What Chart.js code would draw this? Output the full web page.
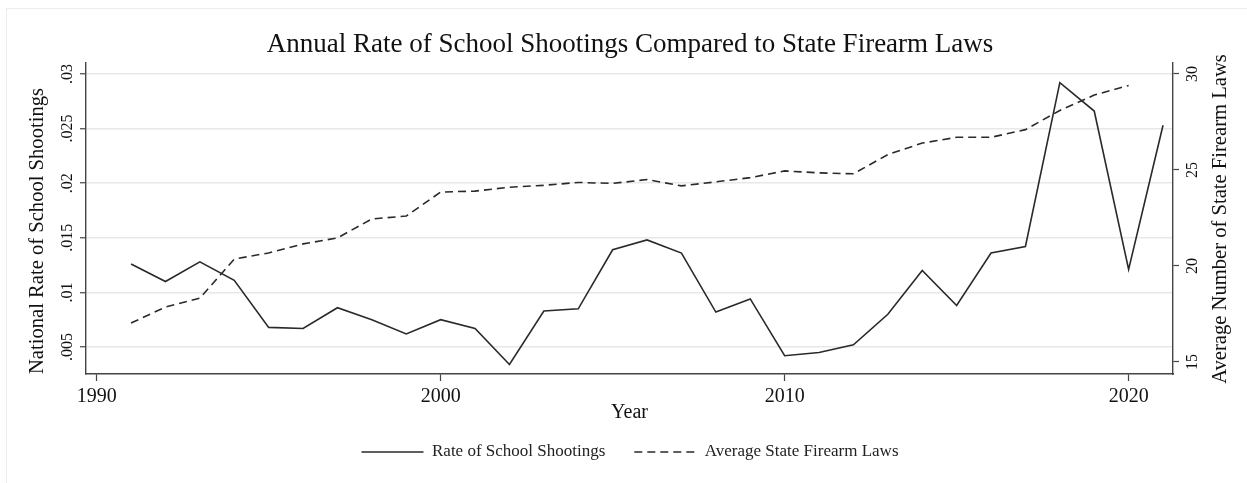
<!DOCTYPE html>
<html>
<head>
<meta charset="utf-8">
<script src="https://cdn.jsdelivr.net/npm/chart.js@4.4.1/dist/chart.umd.min.js"></script>
<style>
html,body{margin:0;padding:0;background:#fff;}
#contenedor{position:relative;width:1247px;height:483px;}
#marco{position:absolute;left:6px;top:8px;width:1270px;height:520px;border:1px solid #ececec;pointer-events:none;}
</style>
</head>
<body>
<div id="contenedor">
<canvas id="grafTiroteos"></canvas>
<div id="marco"></div>
</div>
<script>
/* =====================================
   DATOS
===================================== */

const anios = [
    1991,1992,1993,1994,1995,1996,1997,1998,1999,2000,
    2001,2002,2003,2004,2005,2006,2007,2008,2009,2010,
    2011,2012,2013,2014,2015,2016,2017,2018,2019,2020,
    2021
];

// tasa nacional de tiroteos escolares (eje izquierdo)
const tasaTiroteos = [
    .0126,.0110,.0128,.0111,.0068,.0067,.0086,.0075,.0062,.0075,
    .0067,.0034,.0083,.0085,.0139,.0148,.0136,.0082,.0094,.0042,
    .0045,.0052,.0080,.0120,.0088,.0136,.0142,.0292,.0266,.0121,
    .0253
];

// promedio de leyes estatales de armas (eje derecho), hasta 2020
const leyesPromedio = [
    17.03,17.86,18.33,20.36,20.68,21.15,21.46,22.45,22.60,23.85,
    23.90,24.10,24.20,24.35,24.30,24.50,24.17,24.38,24.60,24.95,
    24.85,24.80,25.80,26.40,26.70,26.70,27.10,28.10,28.90,29.40
];

const ticksAnio = [1990,2000,2010,2020];
const ticksTasa = [.005,.01,.015,.02,.025,.03];
const etiquetasTasa = [".005",".01",".015",".02",".025",".03"];
const ticksLeyes = [15,20,25,30];
const etiquetasLeyes = ["15","20","25","30"];

const titulo = "Annual Rate of School Shootings Compared to State Firearm Laws";
const tituloIzq = "National Rate of School Shootings";
const tituloDer = "Average Number of State Firearm Laws";

/* =====================================
   ESTILO
===================================== */

const serif = "'Liberation Serif','Times New Roman',serif";
const tinta = "#111";
const ejeColor = "#444";

/* =====================================
   TITULOS VERTICALES
===================================== */

const titulosEjes = {
    id:"titulosEjes",
    afterDraw(chart){
        const ctx = chart.ctx;
        ctx.save();
        ctx.font = "20.6px " + serif;
        ctx.fillStyle = tinta;
        ctx.textAlign = "center";
        ctx.textBaseline = "middle";
        [[38,231,tituloIzq],[1221,219,tituloDer]].forEach(t=>{
            ctx.save();
            ctx.translate(t[0],t[1]);
            ctx.rotate(-Math.PI/2);
            ctx.fillText(t[2],0,0);
            ctx.restore();
        });
        ctx.restore();
    }
};

/* =====================================
   GRAFICA
===================================== */

new Chart(
    document.getElementById("grafTiroteos"),
    {
        type:"line",
        data:{
            datasets:[
                {
                    label:"Rate of School Shootings",
                    data:anios.map((a,i)=>({x:a,y:tasaTiroteos[i]})),
                    yAxisID:"yTasa",
                    borderColor:"#2a2a2a",
                    backgroundColor:"#2a2a2a",
                    borderWidth:1.6,
                    pointRadius:0,
                    tension:0
                },
                {
                    label:"Average State Firearm Laws",
                    data:leyesPromedio.map((v,i)=>({x:anios[i],y:v})),
                    yAxisID:"yLeyes",
                    borderColor:"#2a2a2a",
                    backgroundColor:"#2a2a2a",
                    borderWidth:1.6,
                    borderDash:[8,5],
                    pointRadius:0,
                    tension:0
                }
            ]
        },
        options:{
            responsive:true,
            maintainAspectRatio:false,
            animation:false,
            layout:{padding:{left:13,right:0,top:0,bottom:12.5}},
            plugins:{
                title:{
                    display:true,
                    text:titulo,
                    color:tinta,
                    font:{family:serif,size:27,weight:"normal"},
                    padding:{top:28.8,bottom:1.8}
                },
                legend:{
                    position:"bottom",
                    labels:{
                        usePointStyle:true,
                        pointStyle:"line",
                        pointStyleWidth:62,
                        color:"#222",
                        font:{family:serif,size:17},
                        padding:29,
                        generateLabels:chart=>
                            Chart.defaults.plugins.legend.labels.generateLabels(chart)
                            .map((item,i)=>{
                                const ds = chart.data.datasets[i];
                                item.lineDash = ds.borderDash || [];
                                item.lineWidth = ds.borderWidth;
                                item.strokeStyle = ds.borderColor;
                                return item;
                            })
                    }
                },
                tooltip:{enabled:false}
            },
            scales:{
                x:{
                    type:"linear",
                    min:1989.69,
                    max:2021.29,
                    afterBuildTicks:s=>{ s.ticks = ticksAnio.map(v=>({value:v})); },
                    afterFit:s=>{ s.height = 40.5; },
                    ticks:{
                        color:tinta,
                        font:{family:serif,size:20},
                        padding:4,
                        maxRotation:0,
                        callback:v=>String(v)
                    },
                    grid:{
                        drawOnChartArea:false,
                        tickLength:7,
                        tickColor:ejeColor,
                        tickWidth:1.2
                    },
                    border:{display:true,color:ejeColor,width:1.4},
                    title:{
                        display:true,
                        text:"Year",
                        color:tinta,
                        font:{family:serif,size:20},
                        padding:{top:0,bottom:-10.5}
                    }
                },
                yTasa:{
                    type:"linear",
                    position:"left",
                    min:.00253,
                    max:.031,
                    afterBuildTicks:s=>{ s.ticks = ticksTasa.map(v=>({value:v})); },
                    afterFit:s=>{ s.width = 73; },
                    ticks:{
                        color:tinta,
                        font:{family:serif,size:16},
                        minRotation:90,
                        maxRotation:90,
                        crossAlign:"center",
                        padding:-2,
                        callback:(v,i)=>etiquetasTasa[i]
                    },
                    grid:{
                        color:"#e8e8e8",
                        lineWidth:1.5,
                        tickLength:6,
                        tickColor:ejeColor,
                        tickWidth:1.2
                    },
                    border:{display:true,color:ejeColor,width:1.4}
                },
                yLeyes:{
                    type:"linear",
                    position:"right",
                    min:14.375,
                    max:30.57,
                    afterBuildTicks:s=>{ s.ticks = ticksLeyes.map(v=>({value:v})); },
                    afterFit:s=>{ s.width = 74; },
                    ticks:{
                        color:tinta,
                        font:{family:serif,size:16},
                        minRotation:90,
                        maxRotation:90,
                        crossAlign:"center",
                        padding:6,
                        callback:(v,i)=>etiquetasLeyes[i]
                    },
                    grid:{
                        drawOnChartArea:false,
                        tickLength:6,
                        tickColor:ejeColor,
                        tickWidth:1.2
                    },
                    border:{display:true,color:ejeColor,width:1.4}
                }
            }
        },
        plugins:[titulosEjes]
    }
);
</script>
</body>
</html>
